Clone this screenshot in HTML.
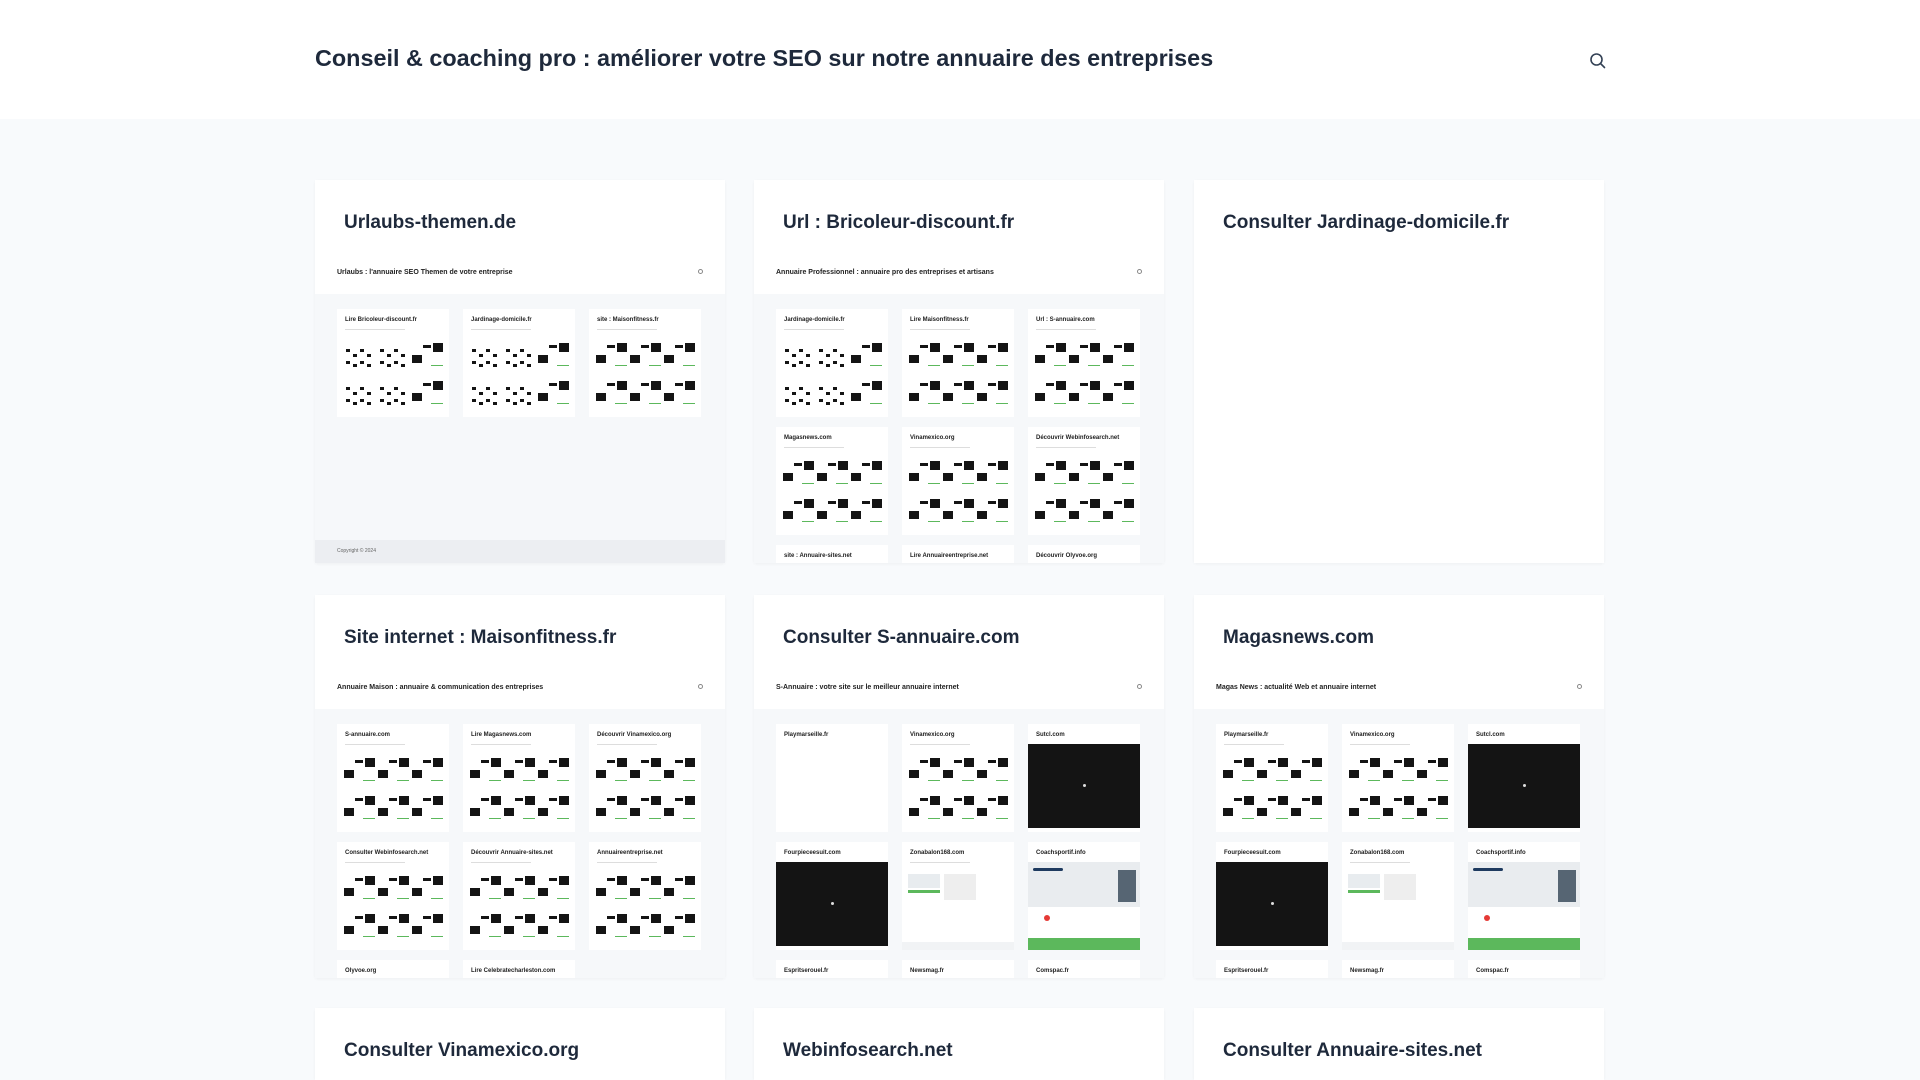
<!DOCTYPE html>
<html style="width:1920px;height:1080px;overflow:hidden"><head><meta charset="utf-8">
<style>
*{margin:0;padding:0;box-sizing:border-box}
body{width:1920px;height:1080px;overflow:hidden;background:#f8fafc;font-family:"Liberation Sans",sans-serif;color:#1e293b;position:relative}
.hdr{position:absolute;left:0;top:0;width:1920px;height:119px;background:#fff}
.hdr h1{position:absolute;left:315px;top:45px;font-size:23.4px;font-weight:bold;color:#1e293b;white-space:nowrap}
.srch{position:absolute;left:1589px;top:52px}
.card{position:absolute;width:410px;height:383px;background:#fff;box-shadow:0 1px 3px rgba(0,0,0,0.04);overflow:hidden}
.card h2{position:absolute;left:29px;top:32px;font-size:19px;font-weight:bold;color:#1e293b;white-space:nowrap}
.th{position:absolute;left:0;top:71px;width:410px;height:312px;background:#f6f8fa;overflow:hidden}
.thh{position:absolute;left:0;top:0;width:410px;height:43px;background:#fff}
.thh span{position:absolute;left:22px;top:18px;font-size:7px;font-weight:bold;color:#222}
.thh i{position:absolute;right:22px;top:18px;width:5px;height:5px;border:1px solid #888;border-radius:50%}
.mc{position:absolute;width:112px;height:108px;background:#fff;overflow:hidden}
.mc b{position:absolute;left:8px;top:8px;font-size:6px;color:#222;white-space:nowrap}
.ln{position:absolute;left:8px;top:20px;width:60px;height:1px;background:#ddd}
.blk{position:absolute;background:#141414}
.gr{position:absolute;background:#5cb85c}
.ft{position:absolute;left:0;top:289px;width:410px;height:23px;background:#eceef2}
.ft span{position:absolute;left:22px;top:8px;font-size:5px;color:#666}
</style></head><body>
<div class="hdr"><h1>Conseil &amp; coaching pro : améliorer votre SEO sur notre annuaire des entreprises</h1>
<svg class="srch" width="18" height="18" viewBox="0 0 18 18"><circle cx="7.5" cy="7.5" r="5.5" fill="none" stroke="#334155" stroke-width="1.6"/><line x1="11.5" y1="11.5" x2="15.5" y2="15.5" stroke="#334155" stroke-width="1.6" stroke-linecap="round"/></svg></div>

<div class="card" style="left:315px;top:180px"><h2>Urlaubs-themen.de</h2><div class="th" id="t1"></div></div>
<div class="card" style="left:754px;top:180px"><h2>Url : Bricoleur-discount.fr</h2><div class="th" id="t2"></div></div>
<div class="card" style="left:1194px;top:180px"><h2>Consulter Jardinage-domicile.fr</h2></div>
<div class="card" style="left:315px;top:595px"><h2>Site internet : Maisonfitness.fr</h2><div class="th" id="t4"></div></div>
<div class="card" style="left:754px;top:595px"><h2>Consulter S-annuaire.com</h2><div class="th" id="t5"></div></div>
<div class="card" style="left:1194px;top:595px"><h2>Magasnews.com</h2><div class="th" id="t6"></div></div>
<div class="card" style="left:315px;top:1008px;height:72px"><h2>Consulter Vinamexico.org</h2></div>
<div class="card" style="left:754px;top:1008px;height:72px"><h2>Webinfosearch.net</h2></div>
<div class="card" style="left:1194px;top:1008px;height:72px"><h2>Consulter Annuaire-sites.net</h2></div>

<script>
function mini(type,title){
  var h='<b>'+title+'</b>';
  if(type=='g'||type=='v'){
    h+='<div class="ln"></div>';
    for(var r=0;r<2;r++)for(var c=0;c<3;c++){
      var x=6+c*34,y=30+r*38;
      if(type=='g'&&c<2){
        for(var k=0;k<4;k++)h+='<div class="blk" style="left:'+(x+3+k*7)+'px;top:'+(y+10+(k%2)*5)+'px;width:4px;height:3px"></div>';
        for(var k=0;k<4;k++)h+='<div class="blk" style="left:'+(x+3+k*7)+'px;top:'+(y+22+(k%2)*3)+'px;width:4px;height:3px"></div>';
      }else{
        h+='<div class="blk" style="left:'+(x+12)+'px;top:'+(y+6)+'px;width:8px;height:3px"></div>';
        h+='<div class="blk" style="left:'+(x+22)+'px;top:'+(y+4)+'px;width:10px;height:9px"></div>';
        h+='<div class="blk" style="left:'+(x+1)+'px;top:'+(y+16)+'px;width:10px;height:8px"></div>';
        h+='<div class="gr" style="left:'+(x+20)+'px;top:'+(y+26)+'px;width:12px;height:1px"></div>';
      }
    }
  }else if(type=='b'){
    h+='<div class="blk" style="left:0;top:20px;width:112px;height:84px"></div><div style="position:absolute;left:55px;top:60px;width:3px;height:3px;background:#ddd;border-radius:50%"></div>';
  }else if(type=='z'){
    h+='<div class="ln"></div><div style="position:absolute;left:6px;top:32px;width:32px;height:14px;background:#e8ecef"></div><div class="gr" style="left:6px;top:48px;width:32px;height:3px"></div><div style="position:absolute;left:42px;top:32px;width:32px;height:26px;background:#eee"></div><div style="position:absolute;left:0;top:100px;width:112px;height:8px;background:#f1f3f5"></div>';
  }else if(type=='c'){
    h+='<div style="position:absolute;left:0;top:20px;width:112px;height:45px;background:#e9ecef"></div><div style="position:absolute;left:5px;top:26px;width:30px;height:3px;background:#1e3a5f;border-radius:2px"></div><div style="position:absolute;left:90px;top:28px;width:18px;height:32px;background:#566573"></div><div style="position:absolute;left:16px;top:73px;width:6px;height:6px;background:#e53935;border-radius:50%"></div><div class="gr" style="left:0;top:96px;width:112px;height:12px"></div>';
  }
  return h;
}
function build(id,rows,head,footer){
  var el=document.getElementById(id);
  var h='<div class="thh"><span>'+head+'</span><i></i></div>';
  var xs=[22,148,274];
  rows.forEach(function(row,ri){
    row.forEach(function(m,ci){
      var top=58+ri*118;
      h+='<div class="mc" style="left:'+xs[ci]+'px;top:'+top+'px">'+mini(m[0],m[1])+'</div>';
    });
  });
  if(footer)h+='<div class="ft"><span>Copyright © 2024</span></div>';
  el.innerHTML=h;
}
build('t1',[[['g','Lire Bricoleur-discount.fr'],['g','Jardinage-domicile.fr'],['v','site : Maisonfitness.fr']]],"Urlaubs : l'annuaire SEO Themen de votre entreprise",true);
build('t2',[[['g','Jardinage-domicile.fr'],['v','Lire Maisonfitness.fr'],['v','Url : S-annuaire.com']],[['v','Magasnews.com'],['v','Vinamexico.org'],['v','Découvrir Webinfosearch.net']],[['w','site : Annuaire-sites.net'],['w','Lire Annuaireentreprise.net'],['w','Découvrir Olyvoe.org']]],"Annuaire Professionnel : annuaire pro des entreprises et artisans",false);
build('t4',[[['v','S-annuaire.com'],['v','Lire Magasnews.com'],['v','Découvrir Vinamexico.org']],[['v','Consulter Webinfosearch.net'],['v','Découvrir Annuaire-sites.net'],['v','Annuaireentreprise.net']],[['w','Olyvoe.org'],['w','Lire Celebratecharleston.com']]],"Annuaire Maison : annuaire &amp; communication des entreprises",false);
var r5=[[['w','Playmarseille.fr'],['v','Vinamexico.org'],['b','Sutcl.com']],[['b','Fourpieceesuit.com'],['z','Zonabalon168.com'],['c','Coachsportif.info']],[['w','Espritserouel.fr'],['w','Newsmag.fr'],['w','Comspac.fr']]];
build('t5',r5,"S-Annuaire : votre site sur le meilleur annuaire internet",false);
var r6=[[['v','Playmarseille.fr'],['v','Vinamexico.org'],['b','Sutcl.com']],[['b','Fourpieceesuit.com'],['z','Zonabalon168.com'],['c','Coachsportif.info']],[['w','Espritserouel.fr'],['w','Newsmag.fr'],['w','Comspac.fr']]];
build('t6',r6,"Magas News : actualité Web et annuaire internet",false);
</script>
</body></html>
